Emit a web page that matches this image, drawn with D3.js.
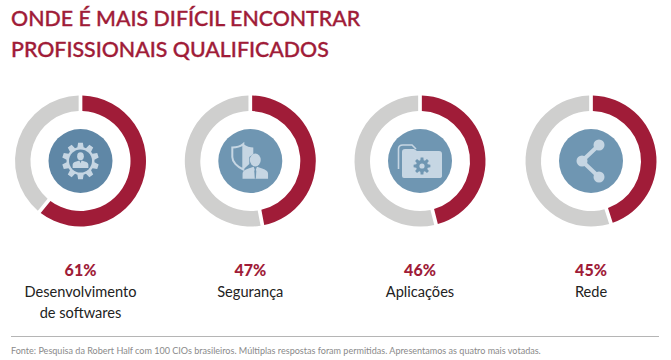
<!DOCTYPE html>
<html><head><meta charset="utf-8">
<script src="https://cdnjs.cloudflare.com/ajax/libs/d3/7.8.5/d3.min.js"></script>
<style>html,body{margin:0;background:#fff}svg{display:block}text{font-family:Lato,"Noto Sans",sans-serif}</style>
</head><body><div id="c"></div>
<script>
const titleLines=["ONDE É MAIS DIFÍCIL ENCONTRAR","PROFISSIONAIS QUALIFICADOS"];
const categories=[["Desenvolvimento","de softwares"],["Segurança"],["Aplicações"],["Rede"]];
const values=[61,47,46,45];
const iconNames=["gear","shield","folder","share"];
const source="Fonte: Pesquisa da Robert Half com 100 CIOs brasileiros. Múltiplas respostas foram permitidas. Apresentamos as quatro mais votadas.";
const red="#a01c38",gray="#cfcfce",blue="#6f96b2",light="#c6d6e3",ink="#222";
const W=671,H=360,R=65.5,r=50,hub=32;
const svg=d3.select("#c").append("svg").attr("width",W).attr("height",H);
svg.append("g").selectAll("text").data(titleLines).join("text")
 .attr("x",11).attr("y",(d,i)=>[26,56.5][i]).attr("fill",red).attr("stroke",red).attr("stroke-width",0.35)
 .attr("font-size",21.35).attr("font-weight",500).text(d=>d);
const cx=d3.scaleOrdinal().domain(d3.range(4)).range([80.5,250.3,420,591]);
const pie=d3.pie().sort(null).padAngle(0.045);
const arc=d3.arc().innerRadius(r).outerRadius(R);
function gearPath(ro,ri,n){const p=[];for(let i=0;i<n;i++){const a=i/n*2*Math.PI,w=Math.PI/n*.55;
 [[ri,a-w*1.3],[ro,a-w*.75],[ro,a+w*.75],[ri,a+w*1.3]].forEach(([q,t])=>p.push([q*Math.sin(t),-q*Math.cos(t)]));}
 return "M"+p.join("L")+"Z";}
const icons={
 gear(g){g.append("path").attr("d",gearPath(18.5,14,10)).attr("fill",light);
  g.append("circle").attr("r",11.5).attr("fill","#5f87a6");
  person(g,0,-1,1.05,light,false);},
 shield(g){g.append("path").attr("d","M-7,-17C-10,-14.500-14,-13.500-18,-13.500L-18,-4C-18,1-13,6-7,8.500Z").attr("fill","none").attr("stroke",light).attr("stroke-width",2);
  g.append("path").attr("d","M-7,-17C-4,-14.500 0,-13.500 3,-13.500L3,-7L-1,-4V3L-7,8.500Z").attr("fill",light);
  person(g,5,5,1.7,light,true);},
 folder(g){g.append("path").attr("d","M-21.500,8V-12Q-21.500,-16-17,-16H-8L-4,-12").attr("fill","none").attr("stroke",light).attr("stroke-width",1.6);
  g.append("path").attr("d","M-16,17Q-18,17-18,15V-9Q-18,-12-15,-12H-6L-3,-10H19Q22,-10 22,-7V15Q22,17 19,17Z").attr("fill",light);
  g.append("path").attr("d",gearPath(8.5,6,8)).attr("transform","translate(2,5)").attr("fill",blue);
  g.append("circle").attr("cx",2).attr("cy",5).attr("r",2.6).attr("fill",light);},
 share(g){g.append("path").attr("d","M8,-16L-9,0L8,16").attr("fill","none").attr("stroke",light).attr("stroke-width",4);
  [[8,-16],[-9,0],[8,16]].forEach(c=>g.append("circle").attr("cx",c[0]).attr("cy",c[1]).attr("r",5.5).attr("fill",light));}
};
function person(g,x,y,k,c,tie){const p=g.append("g").attr("transform",`translate(${x},${y}) scale(${k})`);
 p.append("ellipse").attr("cy",-3.500).attr("rx",3.200).attr("ry",3.800).attr("fill",c);
 p.append("path").attr("d","M-7.500,7.500V4.500Q-7.500,2.500-4,1.500L-1,.5L0,3L1,.5L4,1.500Q7.500,2.500 7.500,4.500V7.500Z").attr("fill",c);
 if(tie)p.append("path").attr("d","M0,1.500L.6,3L.3,7.500H-.3L-.6,3Z").attr("fill",blue);}
const donuts=svg.selectAll("g.d").data(values).join("g").attr("class","d")
 .attr("transform",(d,i)=>`translate(${cx(i)},161)`);
donuts.selectAll("path.s").data(d=>pie([d,100-d])).join("path").attr("class","s")
 .attr("d",arc).attr("fill",(d,i)=>i?gray:red);
donuts.append("circle").attr("r",hub).attr("fill",(d,i)=>i?blue:"#5f87a6");
donuts.each(function(d,i){icons[iconNames[i]](d3.select(this));});
const labels=svg.selectAll("g.l").data(values).join("g").attr("class","l")
 .attr("transform",(d,i)=>`translate(${cx(i)},0)`).attr("text-anchor","middle");
labels.append("text").attr("y",276).attr("fill",red).attr("font-size",16).attr("font-weight",900).text(d=>d+"%");
labels.each(function(d,i){d3.select(this).selectAll("text.n").data(categories[i]).join("text").attr("class","n")
 .attr("y",(t,j)=>297+j*20.5).attr("fill",ink).attr("font-size",14.6).text(t=>t);});
svg.append("line").attr("x1",11).attr("x2",659).attr("y1",336.500).attr("y2",336.500).attr("stroke","#b5b5b5").attr("stroke-width",1);
svg.append("text").attr("x",11).attr("y",353.500).attr("fill","#8a8a8a").attr("font-size",9.05).text(source);
</script></body></html>
